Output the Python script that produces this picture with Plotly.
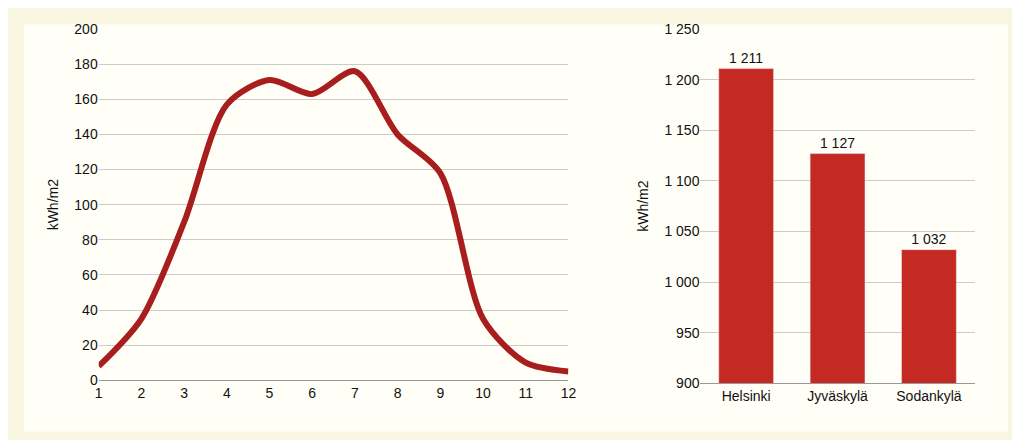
import plotly.graph_objects as go

months = [1,2,3,4,5,6,7,8,9,10,11,12]
irradiance = [8,35,90,157,171,163,176,140,118,35,10,5]
cities = ["Helsinki","Jyväskylä","Sodankylä"]
annual = [1211,1127,1032]
bar_labels = ["1 211","1 127","1 032"]
ytick_right = [900,950,1000,1050,1100,1150,1200,1250]
ytick_right_text = ["900","950","1 000","1 050","1 100","1 150","1 200","1 250"]

fig = go.Figure()
fig.add_trace(go.Scatter(x=months, y=irradiance, mode="lines",
    line=dict(color="#a81e1e", width=6, shape="spline", smoothing=0.8),
    xaxis="x", yaxis="y", showlegend=False))
fig.add_trace(go.Bar(x=cities, y=annual, text=bar_labels, textposition="outside",
    marker_color="#c42a22", width=0.6, xaxis="x2", yaxis="y2", showlegend=False,
    textfont=dict(size=14, color="#111"), cliponaxis=False))

font = dict(family="Liberation Sans, Arial", size=14, color="#111")
fig.update_layout(
    width=1020, height=440, margin=dict(l=0,r=0,t=0,b=0),
    paper_bgcolor="#f9f7e1", plot_bgcolor="rgba(0,0,0,0)", font=font,
    shapes=[dict(type="rect", xref="paper", yref="paper", x0=0.012, x1=0.988, y0=0.02, y1=0.98,
                 fillcolor="#fffff7", line=dict(width=0), layer="below")],
    xaxis=dict(domain=[0.086,0.552], range=[1,12], tickvals=months, showgrid=False,
               showline=True, linecolor="#999", ticks="", zeroline=False),
    yaxis=dict(domain=[0.141,0.969], range=[0,200], dtick=20, gridcolor="#cccccc",
               title=dict(text="kWh/m2", font=dict(size=14), standoff=12), zeroline=False),
    xaxis2=dict(domain=[0.683,0.955], anchor="y2", showgrid=False, showline=True, linecolor="#999"),
    yaxis2=dict(domain=[0.134,0.969], anchor="x2", range=[900,1250], tickvals=ytick_right,
                ticktext=ytick_right_text, gridcolor="#cccccc",
                title=dict(text="kWh/m2", font=dict(size=14), standoff=12), zeroline=False),
    bargap=0.4,
)
fig.write_html("out.html")
